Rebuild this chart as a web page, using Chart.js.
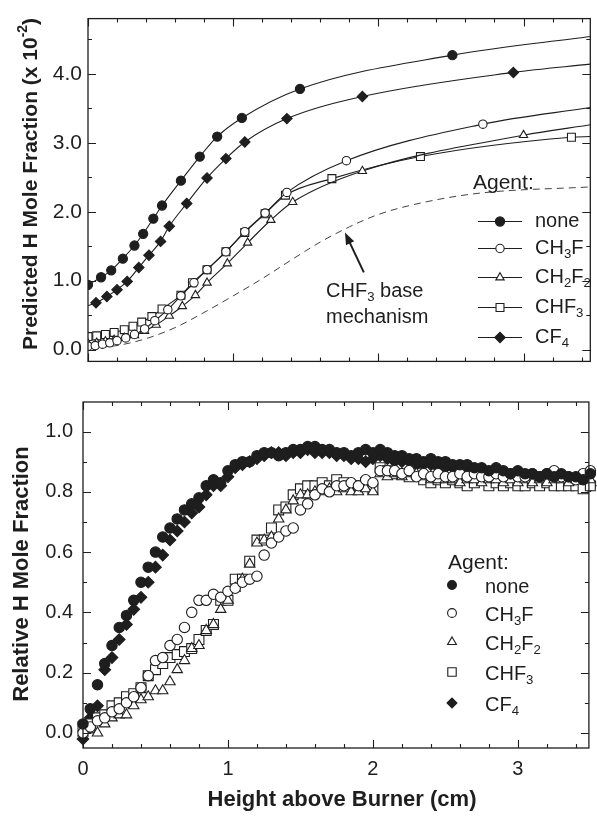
<!DOCTYPE html>
<html><head><meta charset="utf-8">
<script src="https://cdn.jsdelivr.net/npm/chart.js@4"></script>
<style>
html,body{margin:0;padding:0;background:#fff;width:597px;height:816px;overflow:hidden}
#c1{position:absolute;left:0;top:0}
#c2{position:absolute;left:0;top:380px}
</style></head><body>
<canvas id="c1" width="597" height="380"></canvas>
<canvas id="c2" width="597" height="436"></canvas>
<script>
const FONT = '"Liberation Sans", Arial, Helvetica, sans-serif';
const INK = '#1e1e1e';
const agents = ['none', 'CH3F', 'CH2F2', 'CHF3', 'CF4'];

// ---------- top panel: predicted H mole fraction (x 10^-2) ----------
const topNoneX = [0, 0.09, 0.16, 0.24, 0.32, 0.38, 0.45, 0.51, 0.64, 0.77, 0.89, 1.06, 1.46, 2.51, 3.46];
const topNoneY = [0.94, 1.05, 1.15, 1.32, 1.51, 1.68, 1.90, 2.09, 2.45, 2.80, 3.09, 3.36, 3.78, 4.27, 4.54];
const topCH3FX = [0, 0.05, 0.10, 0.15, 0.20, 0.26, 0.32, 0.39, 0.46, 0.55, 0.64, 0.73, 0.82, 0.95, 1.08, 1.22, 1.37, 1.78, 2.72, 3.46];
const topCH3FY = [0.05, 0.06, 0.08, 0.10, 0.13, 0.17, 0.22, 0.30, 0.42, 0.58, 0.78, 0.97, 1.16, 1.42, 1.71, 1.98, 2.28, 2.74, 3.27, 3.51];
const topCH2F2X = [0, 0.06, 0.12, 0.18, 0.25, 0.32, 0.39, 0.47, 0.56, 0.65, 0.74, 0.82, 0.96, 1.10, 1.26, 1.41, 1.89, 3.00, 3.46];
const topCH2F2Y = [0.09, 0.10, 0.12, 0.14, 0.17, 0.21, 0.27, 0.36, 0.49, 0.63, 0.79, 0.97, 1.25, 1.55, 1.88, 2.14, 2.59, 3.11, 3.26];
const topCHF3X = [0, 0.06, 0.12, 0.18, 0.25, 0.31, 0.37, 0.44, 0.51, 0.64, 0.72, 0.82, 0.95, 1.08, 1.22, 1.36, 1.68, 2.29, 3.33, 3.46];
const topCHF3Y = [0.19, 0.20, 0.22, 0.25, 0.29, 0.34, 0.40, 0.48, 0.59, 0.79, 0.97, 1.16, 1.42, 1.70, 1.97, 2.24, 2.48, 2.80, 3.08, 3.09];
const topCF4X = [0, 0.055, 0.13, 0.20, 0.27, 0.35, 0.42, 0.50, 0.56, 0.68, 0.82, 0.95, 1.08, 1.37, 1.89, 2.93, 3.46];
const topCF4Y = [0.64, 0.68, 0.77, 0.87, 0.99, 1.19, 1.37, 1.57, 1.79, 2.12, 2.49, 2.77, 3.01, 3.35, 3.67, 4.02, 4.14];
const topBaseX = [0, 0.2, 0.4, 0.6, 0.8, 1.0, 1.2, 1.4, 1.6, 1.8, 2.0, 2.3, 2.7, 3.46];
const topBaseY = [0.02, 0.06, 0.16, 0.32, 0.54, 0.78, 1.03, 1.30, 1.56, 1.78, 1.96, 2.13, 2.27, 2.36];
// curve points drawn without a symbol (index lists)
const topUnmarked = {none: [14], CH3F: [19], CH2F2: [18], CHF3: [19], CF4: [0, 16]};
const topYTicks = [0, 1, 2, 3, 4];
const topYMinor = [0.5, 1.5, 2.5, 3.5, 4.5];
const xMajorTicks = [0, 1, 2, 3];
const xMinorTicks = [0.2, 0.4, 0.6, 0.8, 1.2, 1.4, 1.6, 1.8, 2.2, 2.4, 2.6, 2.8, 3.2, 3.4];
const arrowFrom = [1.90, 1.12];
const arrowTo = [1.77, 1.70];
const noteAt = [1.64, 0.85, 0.46];

// ---------- bottom panel: relative H mole fraction ----------
const botX = [0.00,0.05,0.10,0.15,0.20,0.25,0.30,0.35,0.40,0.45,0.50,0.55,0.60,0.65,0.70,0.75,0.80,0.85,0.90,0.95,1.00,1.05,1.10,1.15,1.20,1.25,1.30,1.35,1.40,1.45,1.50,1.55,1.60,1.65,1.70,1.75,1.80,1.85,1.90,1.95,2.00,2.05,2.10,2.15,2.20,2.25,2.30,2.35,2.40,2.45,2.50,2.55,2.60,2.65,2.70,2.75,2.80,2.85,2.90,2.95,3.00,3.05,3.10,3.15,3.20,3.25,3.30,3.35,3.40,3.45,3.50];
const botNone = [0.03,0.08,0.16,0.23,0.29,0.35,0.39,0.44,0.50,0.55, 0.60,0.65,0.68,0.71,0.74,0.76,0.78,0.82,0.84,0.83, 0.87,0.89,0.90,0.90,0.92,0.93,0.93,0.92,0.93,0.94, 0.94,0.95,0.95,0.94,0.94,0.93,0.93,0.92,0.93,0.94, 0.93,0.94,0.93,0.92,0.92,0.91,0.91,0.90,0.91,0.90, 0.90,0.89,0.89,0.89,0.88,0.88,0.87,0.88,0.87,0.86, 0.87,0.86,0.86,0.85,0.86,0.85,0.86,0.85,0.85,0.84, 0.86];
const botCH3F = [0.00,0.02,0.04,0.05,0.07,0.08,0.10,0.12,0.15,0.19, 0.24,0.25,0.29,0.31,0.35,0.40,0.44,0.44,0.46,0.45, 0.47,0.48,0.50,0.51,0.52,0.59,0.63,0.65,0.67,0.68, 0.74,0.76,0.79,0.81,0.80,0.82,0.82,0.83,0.82,0.84, 0.83,0.87,0.87,0.87,0.86,0.87,0.85,0.86,0.85,0.86, 0.85,0.85,0.86,0.85,0.86,0.85,0.85,0.86,0.85,0.86, 0.85,0.85,0.86,0.85,0.86,0.87,0.85,0.85,0.84,0.86, 0.87];
const botCH2F2 = [0.00,0.01,0.00,0.03,0.05,0.06,0.06,0.09,0.11,0.12, 0.14,0.14,0.17,0.21,0.24,0.28,0.29,0.34,0.36,0.41, 0.44,0.48,0.51,0.56,0.63,0.64,0.65,0.71,0.74,0.77, 0.79,0.79,0.80,0.80,0.81,0.80,0.81,0.80,0.80,0.81, 0.80,0.86,0.85,0.86,0.85,0.86,0.86,0.85,0.84,0.84, 0.84,0.84,0.83,0.84,0.84,0.83,0.84,0.84,0.83,0.84, 0.83,0.84,0.83,0.84,0.83,0.84,0.84,0.83,0.84,0.84, 0.84];
const botCHF3 = [0.02,0.03,0.05,0.06,0.09,0.10,0.12,0.13,0.15,0.19, 0.21,0.23,0.25,0.26,0.27,0.28,0.31,0.34,0.36,0.44, 0.44,0.51,0.51,0.57,0.64,0.64,0.68,0.74,0.75,0.79, 0.81,0.82,0.82,0.83,0.82,0.84,0.83,0.82,0.82,0.83, 0.81,0.88,0.87,0.86,0.86,0.85,0.86,0.84,0.83,0.84, 0.83,0.84,0.83,0.82,0.83,0.84,0.82,0.83,0.82,0.83, 0.82,0.82,0.83,0.82,0.83,0.82,0.82,0.82,0.82,0.81, 0.82];
const botCF4 = [-0.02,0.05,0.09,0.21,0.25,0.31,0.36,0.41,0.45,0.50, 0.55,0.59,0.64,0.67,0.70,0.73,0.75,0.79,0.82,0.82, 0.85,0.88,0.89,0.90,0.91,0.92,0.93,0.93,0.92,0.93, 0.93,0.94,0.93,0.93,0.93,0.92,0.92,0.91,0.91,0.90, 0.91,0.92,0.91,0.90,0.90,0.90,0.89,0.89,0.89,0.88, 0.88,0.88,0.87,0.87,0.86,0.86,0.86,0.85,0.86,0.85, 0.85,0.84,0.85,0.84,0.84,0.84,0.83,0.84,0.83,0.82, 0.82];
const botYTicks = [0, 0.2, 0.4, 0.6, 0.8, 1.0];
const botYMinor = [0.1, 0.3, 0.5, 0.7, 0.9];

// ---------- styling ----------
const sym = {
  none: {ps: 'circle', filled: true, rTop: 4.6, rBot: 5.2},
  CH3F: {ps: 'circle', filled: false, rTop: 4.2, rBot: 5.2},
  CH2F2: {ps: 'triangle', filled: false, rTop: 4.8, rBot: 6},
  CHF3: {ps: 'rect', filled: false, rTop: 5.6, rBot: 7},
  CF4: {ps: 'rectRot', filled: true, rTop: 5.2, rBot: 5.8}
};
const zip = (xs, ys) => xs.map((x, i) => ({x: x, y: ys[i]}));

function drawRich(ctx, segs, x, y, size, weight, align) {
  const f = (s) => (weight ? weight + ' ' : '') + s + 'px ' + FONT;
  let w = 0;
  segs.forEach(s => { ctx.font = f(s.sub || s.sup ? size * 0.66 : size); s.w = ctx.measureText(s.t).width; w += s.w; });
  let cx = align === 'center' ? x - w / 2 : x;
  ctx.textAlign = 'left';
  ctx.textBaseline = 'middle';
  segs.forEach(s => {
    ctx.font = f(s.sub || s.sup ? size * 0.66 : size);
    const dy = s.sub ? size * 0.32 : (s.sup ? -size * 0.38 : 0);
    ctx.fillText(s.t, cx, y + dy);
    cx += s.w;
  });
}
function chem(str) {
  const out = [];
  for (const ch of str) {
    const sub = /\d/.test(ch);
    const last = out[out.length - 1];
    if (last && last.sub === sub) last.t += ch; else out.push({t: ch, sub: sub});
  }
  return out;
}
function marker(ctx, name, r, x, y) {
  const s = sym[name];
  ctx.save();
  ctx.fillStyle = s.filled ? INK : '#fff';
  ctx.strokeStyle = INK;
  ctx.lineWidth = 1.1;
  Chart.helpers.drawPoint(ctx, {pointStyle: s.ps, radius: r, rotation: 0, borderWidth: 1.1}, x, y);
  ctx.restore();
}

const frameTicks = {
  id: 'frameTicks',
  afterDatasetsDraw(chart, args, o) {
    const {ctx, chartArea: a, scales: {x, y}} = chart;
    ctx.save();
    ctx.strokeStyle = INK;
    ctx.lineWidth = 1.3;
    ctx.strokeRect(a.left, a.top, a.right - a.left, a.bottom - a.top);
    ctx.lineWidth = 1.1;
    ctx.beginPath();
    const xt = (vals, len) => vals.forEach(v => {
      const px = Math.round(x.getPixelForValue(v)) + 0.5;
      if (px < a.left || px > a.right) return;
      ctx.moveTo(px, a.bottom); ctx.lineTo(px, a.bottom - len);
      ctx.moveTo(px, a.top); ctx.lineTo(px, a.top + len);
    });
    const yt = (vals, len) => vals.forEach(v => {
      const py = Math.round(y.getPixelForValue(v)) + 0.5;
      if (py < a.top || py > a.bottom) return;
      ctx.moveTo(a.left, py); ctx.lineTo(a.left + len, py);
      ctx.moveTo(a.right, py); ctx.lineTo(a.right - len, py);
    });
    xt(o.xMajor, 8); xt(o.xMinor, 4);
    yt(o.yMajor, 8); yt(o.yMinor, 4);
    ctx.stroke();
    ctx.restore();
  }
};

const topDecor = {
  id: 'topDecor',
  afterDraw(chart) {
    const {ctx, scales: {x, y}} = chart;
    ctx.save();
    ctx.fillStyle = INK; ctx.strokeStyle = INK;
    // arrow to the base-mechanism curve
    const x0 = x.getPixelForValue(arrowFrom[0]), y0 = y.getPixelForValue(arrowFrom[1]);
    const x1 = x.getPixelForValue(arrowTo[0]), y1 = y.getPixelForValue(arrowTo[1]);
    const ang = Math.atan2(y1 - y0, x1 - x0);
    const hl = 12, hw = 4.5;
    ctx.lineWidth = 2;
    ctx.beginPath();
    ctx.moveTo(x0, y0);
    ctx.lineTo(x1 - Math.cos(ang) * hl * 0.8, y1 - Math.sin(ang) * hl * 0.8);
    ctx.stroke();
    ctx.beginPath();
    ctx.moveTo(x1, y1);
    ctx.lineTo(x1 - Math.cos(ang) * hl - Math.sin(ang) * hw, y1 - Math.sin(ang) * hl + Math.cos(ang) * hw);
    ctx.lineTo(x1 - Math.cos(ang) * hl + Math.sin(ang) * hw, y1 - Math.sin(ang) * hl - Math.cos(ang) * hw);
    ctx.closePath();
    ctx.fill();
    const tx = x.getPixelForValue(noteAt[0]);
    drawRich(ctx, chem('CHF3 base'), tx, y.getPixelForValue(noteAt[1]), 20, '', 'left');
    drawRich(ctx, [{t: 'mechanism'}], tx, y.getPixelForValue(noteAt[2]), 20, '', 'left');
    // legend
    drawRich(ctx, [{t: 'Agent:'}], 473, 183, 21, '', 'left');
    const rows = [221, 248, 277, 307, 337];
    agents.forEach((n, i) => {
      ctx.lineWidth = 1.2;
      ctx.beginPath(); ctx.moveTo(478, rows[i] + 0.5); ctx.lineTo(522, rows[i] + 0.5); ctx.stroke();
      marker(ctx, n, sym[n].rTop, 500, rows[i] + 0.5);
      ctx.fillStyle = INK;
      drawRich(ctx, chem(n), 535, rows[i], 20, '', 'left');
    });
    // y title
    ctx.translate(31, 184);
    ctx.rotate(-Math.PI / 2);
    drawRich(ctx, [{t: 'Predicted H Mole Fraction (x 10'}, {t: '-2', sup: true}, {t: ')'}], 0, 0, 21, 'bold', 'center');
    ctx.restore();
  }
};

const botDecor = {
  id: 'botDecor',
  afterDraw(chart) {
    const {ctx} = chart;
    ctx.save();
    ctx.fillStyle = INK;
    drawRich(ctx, [{t: 'Agent:'}], 448, 183, 21, '', 'left');
    const rows = [205, 233, 262, 292, 323];
    agents.forEach((n, i) => {
      marker(ctx, n, sym[n].rBot * 0.85, 452, rows[i]);
      ctx.fillStyle = INK;
      drawRich(ctx, chem(n), 485, rows[i] + 2, 20, '', 'left');
    });
    drawRich(ctx, [{t: 'Height above Burner (cm)'}], 342, 420, 22, 'bold', 'center');
    ctx.translate(22, 194);
    ctx.rotate(-Math.PI / 2);
    drawRich(ctx, [{t: 'Relative H Mole Fraction'}], 0, 0, 22, 'bold', 'center');
    ctx.restore();
  }
};

// ---------- top chart ----------
const topSeries = {
  none: zip(topNoneX, topNoneY), CH3F: zip(topCH3FX, topCH3FY), CH2F2: zip(topCH2F2X, topCH2F2Y),
  CHF3: zip(topCHF3X, topCHF3Y), CF4: zip(topCF4X, topCF4Y)
};
const topSets = agents.map(n => ({
  label: n,
  data: topSeries[n],
  showLine: true,
  cubicInterpolationMode: 'monotone',
  borderColor: INK,
  borderWidth: 1.1,
  pointStyle: sym[n].ps,
  pointRadius: c => topUnmarked[n].includes(c.dataIndex) ? 0 : sym[n].rTop,
  pointBackgroundColor: sym[n].filled ? INK : '#fff',
  pointBorderColor: INK,
  pointBorderWidth: 1.1
}));
topSets.push({
  label: 'CHF3 base mechanism',
  data: zip(topBaseX, topBaseY),
  showLine: true,
  cubicInterpolationMode: 'monotone',
  borderColor: '#444',
  borderWidth: 1,
  borderDash: [7, 5],
  pointRadius: 0
});

new Chart(document.getElementById('c1'), {
  type: 'scatter',
  data: {datasets: topSets},
  options: {
    responsive: false, animation: false, events: [],
    layout: {padding: {top: 14, right: 1, left: 0, bottom: 0}},
    plugins: {legend: {display: false}, tooltip: {enabled: false},
      frameTicks: {xMajor: xMajorTicks, xMinor: xMinorTicks, yMajor: topYTicks, yMinor: topYMinor}},
    scales: {
      x: {type: 'linear', min: 0, max: 3.46,
        grid: {display: false, drawTicks: false}, border: {display: false},
        ticks: {display: false},
        afterFit: s => { s.height = 10; }},
      y: {type: 'linear', min: -0.17, max: 4.8,
        grid: {display: false, drawTicks: false}, border: {display: false},
        afterBuildTicks: s => { s.ticks = topYTicks.map(v => ({value: v})); },
        ticks: {color: INK, padding: 6, font: {family: FONT, size: 21}, callback: v => v.toFixed(1)},
        afterFit: s => { s.width = 88; }}
    }
  },
  plugins: [frameTicks, topDecor]
});

// ---------- bottom chart ----------
const botSeries = {none: botNone, CH3F: botCH3F, CH2F2: botCH2F2, CHF3: botCHF3, CF4: botCF4};
const botSets = agents.map(n => ({
  label: n,
  data: zip(botX, botSeries[n]),
  showLine: false,
  clip: false,
  pointStyle: sym[n].ps,
  pointRadius: sym[n].rBot,
  pointBackgroundColor: sym[n].filled ? INK : '#fff',
  pointBorderColor: INK,
  pointBorderWidth: 1.1
}));

new Chart(document.getElementById('c2'), {
  type: 'scatter',
  data: {datasets: botSets},
  options: {
    responsive: false, animation: false, events: [],
    layout: {padding: {top: 18, right: 1, left: 0, bottom: 0}},
    plugins: {legend: {display: false}, tooltip: {enabled: false},
      frameTicks: {xMajor: xMajorTicks, xMinor: xMinorTicks, yMajor: botYTicks, yMinor: botYMinor}},
    scales: {
      x: {type: 'linear', min: 0, max: 3.49,
        grid: {display: false, drawTicks: false}, border: {display: false},
        afterBuildTicks: s => { s.ticks = xMajorTicks.map(v => ({value: v})); },
        ticks: {color: INK, padding: 9, autoSkip: false, maxRotation: 0, font: {family: FONT, size: 20}, callback: v => String(v)},
        afterFit: s => { s.height = 68; }},
      y: {type: 'linear', min: -0.05, max: 1.098,
        grid: {display: false, drawTicks: false}, border: {display: false},
        afterBuildTicks: s => { s.ticks = botYTicks.map(v => ({value: v})); },
        ticks: {color: INK, padding: 10, font: {family: FONT, size: 20}, callback: v => v.toFixed(1)},
        afterFit: s => { s.width = 83; }}
    }
  },
  plugins: [frameTicks, botDecor]
});
</script>
</body></html>
